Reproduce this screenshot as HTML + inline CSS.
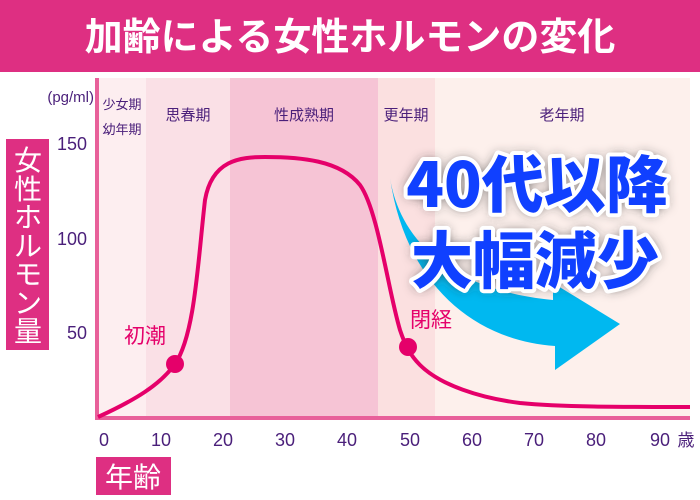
<!DOCTYPE html>
<html><head><meta charset="utf-8"><style>
body{margin:0;width:700px;height:500px;overflow:hidden;background:#fff;font-family:"Liberation Sans","Noto Sans CJK JP",sans-serif}
</style></head><body>
<svg width="700" height="500" xmlns="http://www.w3.org/2000/svg" style="position:absolute;left:0;top:0">
<defs>
<filter id="sh" x="-20%" y="-30%" width="140%" height="160%"><feGaussianBlur stdDeviation="6"/></filter>
</defs>
<rect x="0" y="0" width="700" height="72" fill="#de2f82"/>
<text x="350" y="50" text-anchor="middle" font-size="38" font-weight="bold" fill="#fff" font-family="Noto Sans CJK JP,sans-serif">加齢による女性ホルモンの変化</text>
<rect x="99" y="78" width="47" height="340" fill="#fdeef0"/>
<rect x="146" y="78" width="84" height="340" fill="#fae0e6"/>
<rect x="230" y="78" width="148" height="340" fill="#f6c4d5"/>
<rect x="378" y="78" width="57" height="340" fill="#fbe0e0"/>
<rect x="435" y="78" width="255" height="340" fill="#fdf0ec"/>
<g font-family="Noto Sans CJK JP,sans-serif" fill="#4a1f7a">
<text x="94" y="102" text-anchor="end" font-size="15" font-family="Liberation Sans,sans-serif">(pg/ml)</text>
<text x="122" y="109" text-anchor="middle" font-size="13">少女期</text>
<text x="122" y="134" text-anchor="middle" font-size="13">幼年期</text>
<text x="188" y="120" text-anchor="middle" font-size="15">思春期</text>
<text x="304" y="120" text-anchor="middle" font-size="15">性成熟期</text>
<text x="406" y="120" text-anchor="middle" font-size="15">更年期</text>
<text x="562" y="120" text-anchor="middle" font-size="15">老年期</text>
<g font-family="Liberation Sans,sans-serif" font-size="18">
<text x="87" y="150" text-anchor="end">150</text>
<text x="87" y="245" text-anchor="end">100</text>
<text x="87" y="339" text-anchor="end">50</text>
<g text-anchor="middle">
<text x="104" y="446">0</text><text x="161" y="446">10</text><text x="223" y="446">20</text><text x="285" y="446">30</text><text x="347" y="446">40</text><text x="410" y="446">50</text><text x="472" y="446">60</text><text x="534" y="446">70</text><text x="596" y="446">80</text><text x="660" y="446">90</text>
</g></g>
<text x="686" y="446" text-anchor="middle" font-size="17">歳</text>
</g>
<rect x="6" y="139" width="43" height="211" fill="#de2f82"/>
<g fill="#fff" font-size="28" text-anchor="middle" font-family="Noto Sans CJK JP,sans-serif">
<text x="28" y="170">女</text><text x="28" y="199">性</text><text x="28" y="227">ホ</text><text x="28" y="256">ル</text><text x="28" y="284">モ</text><text x="28" y="313">ン</text><text x="28" y="341">量</text>
</g>
<rect x="96" y="457" width="75" height="38" fill="#de2f82"/>
<text x="133" y="487" fill="#fff" font-size="28" text-anchor="middle" font-family="Noto Sans CJK JP,sans-serif">年齢</text>
<rect x="95" y="78" width="4" height="342" fill="#e8609a"/>
<rect x="95" y="416" width="595" height="4" fill="#e8609a"/>
<path d="M98,417 C135,400 160,385 175,364 C195,335 198,260 205,200 C212,160 240,157 265,157 C300,157 340,160 360,185 C378,210 388,290 400,330 C405,345 410,355 420,365 C440,385 480,398 520,403 C560,407 620,407 690,407" fill="none" stroke="#e5006a" stroke-width="4"/>
<circle cx="175" cy="364" r="9" fill="#e5006a"/>
<circle cx="408" cy="347" r="9" fill="#e5006a"/>
<text x="124" y="343" fill="#e5006a" font-size="21" font-family="Noto Sans CJK JP,sans-serif">初潮</text>
<text x="410" y="327" fill="#e5006a" font-size="21" font-family="Noto Sans CJK JP,sans-serif">閉経</text>
<path d="M390,178 C400,240 450,290 553,300 L553,283 L620,324 L555,370 L555,346 C470,340 405,280 390,178 Z" fill="#00b8f0"/>
<g font-family="Noto Sans CJK JP,sans-serif" font-weight="900" font-size="62" text-anchor="middle">
<g filter="url(#sh)" fill="#333"><text x="537" y="207">40代以降</text><text x="535" y="283">大幅減少</text></g>
<g fill="#1040ff" stroke="#fff" stroke-width="8" paint-order="stroke" stroke-linejoin="round"><text x="537" y="207">40代以降</text><text x="535" y="283">大幅減少</text></g>
</g>
</svg>
</body></html>
